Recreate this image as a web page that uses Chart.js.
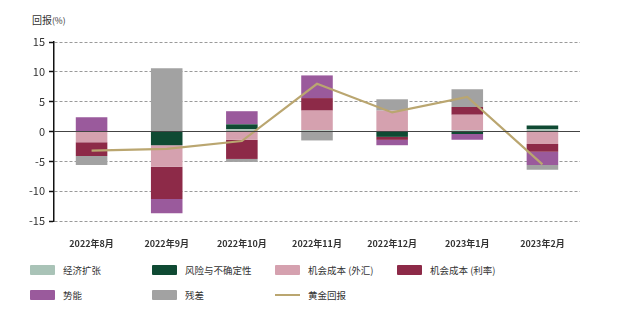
<!DOCTYPE html>
<html>
<head>
<meta charset="utf-8">
<script src="https://cdn.jsdelivr.net/npm/chart.js@4"></script>
<style>
  body { margin: 0; background: #fff; font-family: "Noto Sans CJK SC", "Noto Sans", sans-serif; }
  #wrap { position: relative; width: 640px; height: 334px; }
  #box { position: absolute; left: 0; top: 0; width: 640px; height: 250px; }
  #ytitle { position: absolute; left: 32px; top: 12px; font-size: 10px; color: #333; }
  #ytitle span { font-size: 8.5px; }
  #legend { position: absolute; left: 0; top: 263px; width: 640px; }
  .item { position: absolute; font-size: 9.5px; color: #333; display: flex; align-items: center; }
  .sw { width: 25px; height: 10px; margin-right: 8px; border-radius: 1px; }
  .ln { width: 25px; height: 2px; margin-right: 8px; }
</style>
</head>
<body>
<div id="wrap">
  <div id="ytitle">回报<span>(%)</span></div>
  <div id="box"><canvas id="myChart"></canvas></div>
  <div id="legend"></div>
</div>
<script>
const months = ['2022年8月', '2022年9月', '2022年10月', '2022年11月', '2022年12月', '2023年1月', '2023年2月'];

const growth = [0, 0, 0.4, 0.2, 0, 0.2, 0.4];
const risk = [0, -2.3, 0.8, 0, -0.9, -0.4, 0.6];
const costFx = [-1.8, -3.6, -1.4, 3.3, 3.5, 2.6, -2.1];
const costRate = [-2.3, -5.4, -3.2, 2.1, -0.5, 1.3, -1.3];
const momentum = [2.4, -2.4, 2.2, 3.8, -0.9, -1.0, -2.2];
const residual = [-1.5, 10.6, -0.5, -1.5, 1.9, 3.0, -0.8];
const goldReturn = [-3.2, -2.9, -1.6, 8.0, 3.2, 5.8, -5.5];

const yTicks = [-15, -10, -5, 0, 5, 10, 15];

const barSets = [
    { label: '经济扩张', data: growth, color: '#a9c3b7' },
    { label: '风险与不确定性', data: risk, color: '#0f4a33' },
    { label: '机会成本 (外汇)', data: costFx, color: '#d5a1af' },
    { label: '机会成本 (利率)', data: costRate, color: '#8d2a48' },
    { label: '势能', data: momentum, color: '#9a5a9c' },
    { label: '残差', data: residual, color: '#a2a2a2' }
];
const lineColor = '#baa670';

const datasets = barSets.map(s => ({
    type: 'bar',
    label: s.label,
    data: s.data,
    backgroundColor: s.color,
    stack: 'f',
    order: 1,
    barPercentage: 0.42,
    categoryPercentage: 1
}));
datasets.push({
    type: 'line',
    label: '黄金回报',
    data: goldReturn,
    borderColor: lineColor,
    borderWidth: 2.2,
    pointRadius: 0,
    stack: 'g',
    order: 0,
    tension: 0
});

// solid zero line over the bars
const zeroLine = {
    id: 'zeroLine',
    afterDatasetsDraw(chart) {
        const { ctx, chartArea, scales } = chart;
        const y = scales.y.getPixelForValue(0);
        ctx.save();
        ctx.strokeStyle = '#444';
        ctx.lineWidth = 1;
        ctx.beginPath();
        ctx.moveTo(chartArea.left, y);
        ctx.lineTo(chartArea.right, y);
        ctx.stroke();
        ctx.restore();
    }
};

const font = { family: '"Noto Sans CJK SC", "Noto Sans", sans-serif' };

new Chart(document.getElementById('myChart'), {
    data: { labels: months, datasets: datasets },
    plugins: [zeroLine],
    options: {
        responsive: true,
        maintainAspectRatio: false,
        animation: false,
        layout: { padding: { left: 0, right: 60, top: 42, bottom: 0 } },
        plugins: {
            legend: { display: false },
            tooltip: { enabled: false }
        },
        scales: {
            x: {
                stacked: true,
                grid: { display: false },
                border: { display: false },
                ticks: { padding: 9, color: '#333', font: { ...font, size: 9, weight: 'bold' } },
                afterFit(scale) { scale.height = 29; }
            },
            y: {
                stacked: true,
                min: -15,
                max: 15,
                afterBuildTicks(scale) { scale.ticks = yTicks.map(v => ({ value: v })); },
                grid: {
                    color: ctx => ctx.tick && ctx.tick.value === 0 ? 'rgba(0,0,0,0)' : '#9a9a9a',
                    lineWidth: 1,
                    tickColor: '#111',
                    tickLength: 5,
                    tickWidth: 1.5
                },
                border: { display: true, color: '#111', width: 1.5, dash: [3, 2] },
                ticks: { padding: 4, color: '#333', font: { ...font, size: 11 } },
                afterFit(scale) { scale.width = 54; }
            }
        }
    }
});

// html legend, four columns
const colX = [30, 152, 275, 397];
const legendEl = document.getElementById('legend');
const items = barSets.map(s => ({ label: s.label, color: s.color, line: false }));
items.push({ label: '黄金回报', color: lineColor, line: true });
items.forEach((it, i) => {
    const d = document.createElement('div');
    d.className = 'item';
    d.style.left = colX[i % 4] + 'px';
    d.style.top = (Math.floor(i / 4) * 25) + 'px';
    const sw = document.createElement('div');
    sw.className = it.line ? 'ln' : 'sw';
    sw.style.background = it.color;
    d.appendChild(sw);
    d.appendChild(document.createTextNode(it.label));
    legendEl.appendChild(d);
});
</script>
</body>
</html>
